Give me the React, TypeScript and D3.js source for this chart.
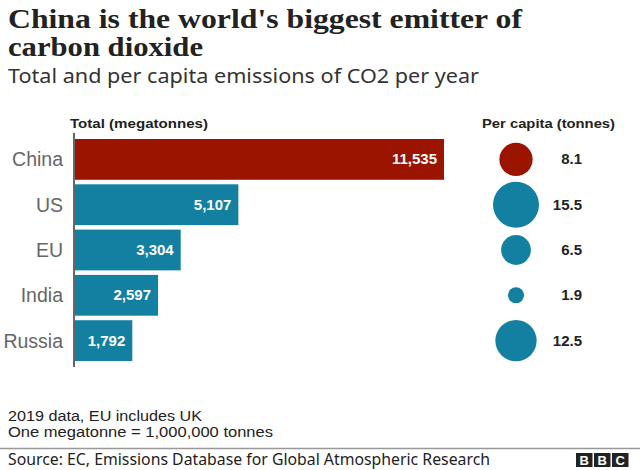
import React from "react";
import * as d3 from "d3";

const countries = ["China", "US", "EU", "India", "Russia"];
const totals = [11535, 5107, 3304, 2597, 1792];
const perCapita = [8.1, 15.5, 6.5, 1.9, 12.5];
const highlight = ["China"];

const W = 640;
const H = 470;
const RED = "#9a1400";
const TEAL = "#1380a1";
const SANS = "'Liberation Sans', Arial, sans-serif";
const TEXT_SANS = "'Noto Sans', 'Open Sans', sans-serif";
const SERIF = "'Liberation Serif', 'DejaVu Serif', serif";

export default function App() {
  const x = d3.scaleLinear().domain([0, 11535]).range([75, 444]);
  const y = d3.scaleBand<string>().domain(countries).range([139, 361]).paddingInner(0.1).paddingOuter(0);
  const r = d3.scaleSqrt().domain([0, 15.5]).range([0, 23]);
  const fmt = d3.format(",");
  const bw = y.bandwidth();

  return (
    <svg width={W} height={H} style={{ position: "absolute", left: 0, top: 0, background: "#fff" }}>
      <text x={8} y={28} fontFamily={SERIF} fontWeight={700} fontSize={27} fill="#222" textLength={514} lengthAdjust="spacingAndGlyphs">
        China is the world's biggest emitter of
      </text>
      <text x={8} y={56} fontFamily={SERIF} fontWeight={700} fontSize={27} fill="#222" textLength={195} lengthAdjust="spacingAndGlyphs">
        carbon dioxide
      </text>
      <text x={8} y={83} fontFamily={TEXT_SANS} fontSize={19.5} fill="#333" textLength={471} lengthAdjust="spacingAndGlyphs">
        Total and per capita emissions of CO2 per year
      </text>

      <text x={70} y={128} fontFamily={SANS} fontWeight={700} fontSize={13.5} fill="#222" textLength={138} lengthAdjust="spacingAndGlyphs">
        Total (megatonnes)
      </text>
      <text x={482} y={128} fontFamily={SANS} fontWeight={700} fontSize={13.5} fill="#222" textLength={133} lengthAdjust="spacingAndGlyphs">
        Per capita (tonnes)
      </text>

      {countries.map((c, i) => {
        const yc = (y(c) as number) + bw / 2;
        const col = highlight.includes(c) ? RED : TEAL;
        return (
          <g key={c}>
            <text x={63} y={yc + 7} textAnchor="end" fontFamily={SANS} fontSize={19.5} fill="#666">
              {c}
            </text>
            <rect x={x(0)} y={y(c)} width={x(totals[i]) - x(0)} height={bw} fill={col} />
            <text x={x(totals[i]) - 7} y={yc + 5} textAnchor="end" fontFamily={SANS} fontWeight={700} fontSize={15} fill="#fff">
              {fmt(totals[i])}
            </text>
            <circle cx={516} cy={yc} r={r(perCapita[i])} fill={col} />
            <text x={582} y={yc + 5} textAnchor="end" fontFamily={SANS} fontWeight={700} fontSize={15} fill="#222">
              {perCapita[i].toFixed(1)}
            </text>
          </g>
        );
      })}
      <line x1={74} x2={74} y1={133} y2={367} stroke="#333" strokeWidth={1.5} />

      <text x={8} y={421} fontFamily={SANS} fontSize={14} fill="#222" textLength={194} lengthAdjust="spacingAndGlyphs">
        2019 data, EU includes UK
      </text>
      <text x={8} y={437} fontFamily={SANS} fontSize={14} fill="#222" textLength={265} lengthAdjust="spacingAndGlyphs">
        One megatonne = 1,000,000 tonnes
      </text>
      <line x1={0} x2={640} y1={448.5} y2={448.5} stroke="#999" strokeWidth={1.5} />
      <text x={8} y={465} fontFamily={TEXT_SANS} fontSize={15.5} fill="#222" textLength={482} lengthAdjust="spacingAndGlyphs">
        Source: EC, Emissions Database for Global Atmospheric Research
      </text>
      {["B", "B", "C"].map((l, i) => (
        <g key={i}>
          <rect x={576 + i * 18} y={453} width={16.5} height={14} fill="#222" />
          <text x={576 + i * 18 + 8.25} y={465} textAnchor="middle" fontFamily={SANS} fontWeight={700} fontSize={13} fill="#fff">
            {l}
          </text>
        </g>
      ))}
    </svg>
  );
}
